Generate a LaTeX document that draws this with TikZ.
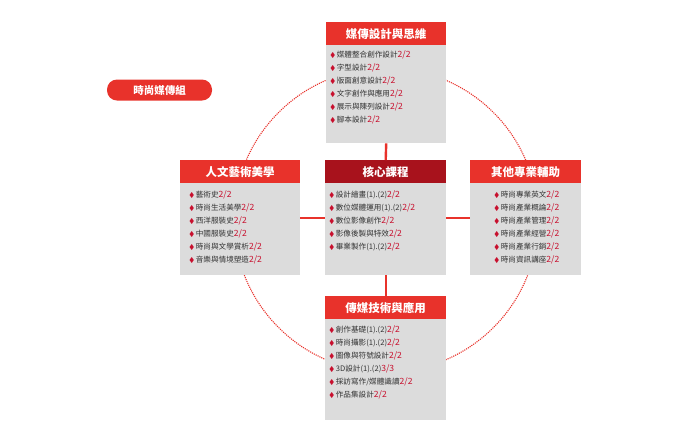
\documentclass[tikz,border=0pt]{standalone}
\usepackage{amssymb}
\usepackage{fontspec}
\setmainfont{Noto Sans CJK TC}
\definecolor{rd}{HTML}{E8322B}
\definecolor{drd}{HTML}{A8121C}
\definecolor{bx}{HTML}{DCDCDC}
\definecolor{num}{HTML}{C8102E}
\definecolor{tx}{HTML}{333333}
\newcommand{\itm}[1]{\textcolor{num}{\scriptsize$\blacklozenge$}\,#1}
\newcommand{\nm}[1]{\textcolor{num}{\fontsize{8.6}{13}\selectfont #1}}
\begin{document}
\begin{tikzpicture}[x=1pt,y=-1pt,
  hdr/.style={fill=rd,text=white,font=\fontsize{11.5}{12}\selectfont\bfseries,inner sep=0pt,anchor=north west,align=center},
  body/.style={fill=bx,inner sep=0pt,anchor=north west},
  lst/.style={anchor=north west,inner sep=0pt,align=left,text=tx,font=\fontsize{7.6}{13}\selectfont},
  link/.style={draw=rd,line width=2.4pt}]
\useasboundingbox (0,0) rectangle (700,440);
\draw[rd,densely dotted,line width=1.1pt] (386,220) circle (152);
% top
\node[body,minimum width=120,minimum height=98] (tb) at (326,45) {};
\node[hdr,minimum width=120,minimum height=23] (th) at (326,22) {媒傳設計與思維};
\node[lst] (tl) at (330,50) {\itm{媒體整合創作設計\nm{2/2}}\\\itm{字型設計\nm{2/2}}\\\itm{版面創意設計\nm{2/2}}\\\itm{文字創作與應用\nm{2/2}}\\\itm{展示與陳列設計\nm{2/2}}\\\itm{腳本設計\nm{2/2}}};
% left
\node[body,minimum width=120,minimum height=92] (lb) at (180,183) {};
\node[hdr,minimum width=120,minimum height=23] (lh) at (180,160) {人文藝術美學};
\node[lst] (ll) at (189,190) {\itm{藝術史\nm{2/2}}\\\itm{時尚生活美學\nm{2/2}}\\\itm{西洋服裝史\nm{2/2}}\\\itm{中國服裝史\nm{2/2}}\\\itm{時尚與文學賞析\nm{2/2}}\\\itm{音樂與情境塑造\nm{2/2}}};
% center
\node[body,minimum width=121,minimum height=92] (cb) at (325,183) {};
\node[hdr,fill=drd,minimum width=121,minimum height=23] (ch) at (325,160) {核心課程};
\node[lst] (cl) at (329,190) {\itm{設計繪畫(1).(2)\nm{2/2}}\\\itm{數位媒體運用(1).(2)\nm{2/2}}\\\itm{數位影像創作\nm{2/2}}\\\itm{影像後製與特效\nm{2/2}}\\\itm{畢業製作(1).(2)\nm{2/2}}};
% right
\node[body,minimum width=111,minimum height=92] (rb) at (470,183) {};
\node[hdr,minimum width=111,minimum height=23] (rh) at (470,160) {其他專業輔助};
\node[lst] (rl) at (494,190) {\itm{時尚專業英文\nm{2/2}}\\\itm{時尚產業概論\nm{2/2}}\\\itm{時尚產業管理\nm{2/2}}\\\itm{時尚產業經營\nm{2/2}}\\\itm{時尚產業行銷\nm{2/2}}\\\itm{時尚資訊講座\nm{2/2}}};
% bottom
\node[body,minimum width=121,minimum height=101] (bb) at (325,319) {};
\node[hdr,minimum width=121,minimum height=23] (bh) at (325,296) {傳媒技術與應用};
\node[lst] (bl) at (329,325) {\itm{創作基礎(1).(2)\nm{2/2}}\\\itm{時尚攝影(1).(2)\nm{2/2}}\\\itm{圖像與符號設計\nm{2/2}}\\\itm{3D設計(1).(2)\nm{3/3}}\\\itm{採訪寫作/媒體識讀\nm{2/2}}\\\itm{作品集設計\nm{2/2}}};
% links
\draw[link] (tb.south) -- (ch.north);
\draw[link] (lb.east |- 0,218) -- (cb.west |- 0,218);
\draw[link] (cb.east |- 0,218) -- (rb.west |- 0,218);
\draw[link] (cb.south) -- (bh.north);
% tag
\node[fill=rd,text=white,rounded corners=10pt,minimum width=105,minimum height=21,inner sep=0pt,font=\fontsize{10.5}{12}\selectfont\bfseries] (tag) at (159.5,90) {時尚媒傳組};
\end{tikzpicture}
\end{document}
